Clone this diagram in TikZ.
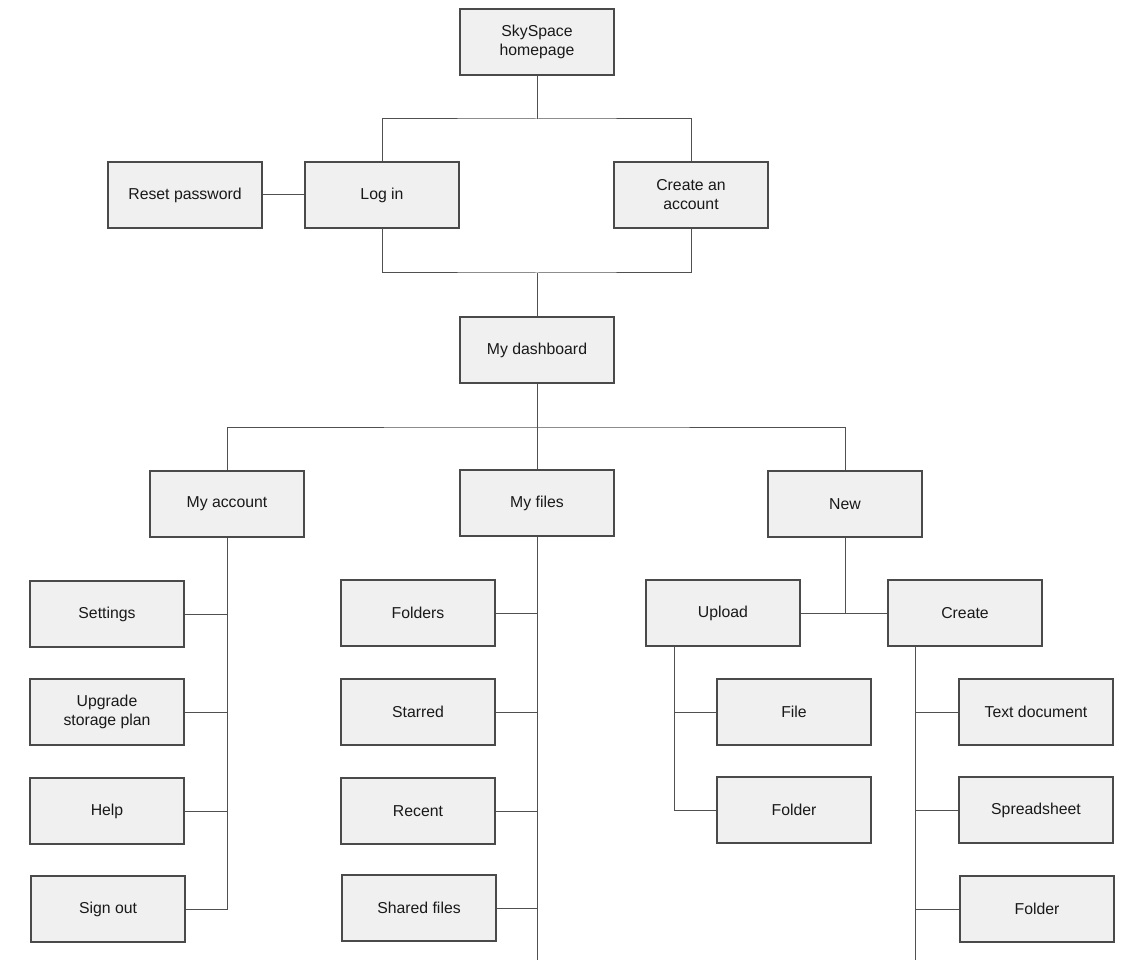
\documentclass[tikz,border=0pt]{standalone}
\usepackage{fontspec}
\setmainfont{Liberation Sans}
\definecolor{boxfill}{HTML}{F0F0F0}
\definecolor{boxline}{HTML}{4A4A4A}
\definecolor{linkcol}{HTML}{505050}
\begin{document}
\begin{tikzpicture}[x=1pt,y=-1pt,
  box/.style={draw=boxline, fill=boxfill, line width=1.2pt, minimum width=154pt,
    minimum height=66pt, inner sep=0pt, align=center,
    font=\fontsize{15.8}{19}\selectfont, text=black!90},
  link/.style={draw=linkcol, line width=1pt}]
\useasboundingbox[fill=white] (0,0) rectangle (1125,960);

% level 0-1
\node[box] (home)   at (537,42)  {SkySpace\\homepage};
\node[box] (login)  at (382,195) {Log in};
\node[box] (reset)  at (185,195) {Reset password};
\node[box] (create) at (691,195) {Create an\\account};
\node[box] (dash)   at (537,350) {My dashboard};

% level 2
\node[box] (acct)  at (227,504) {My account};
\node[box] (files) at (537,503) {My files};
\node[box] (new)   at (845,504) {New};

% my account children
\node[box] (settings) at (107,614) {Settings};
\node[box] (upgrade)  at (107,712) {Upgrade\\storage plan};
\node[box] (help)     at (107,811) {Help};
\node[box] (signout)  at (108,909) {Sign out};

% my files children
\node[box] (folders) at (418,613) {Folders};
\node[box] (starred) at (418,712) {Starred};
\node[box] (recent)  at (418,811) {Recent};
\node[box] (shared)  at (419,908) {Shared files};

% new children
\node[box] (upload)  at (723,613) {Upload};
\node[box] (create2) at (965,613) {Create};
\node[box] (file)    at (794,712) {File};
\node[box] (ufolder) at (794,810) {Folder};
\node[box] (textdoc) at (1036,712) {Text document};
\node[box] (sheet)   at (1036,810) {Spreadsheet};
\node[box] (cfolder) at (1037,909) {Folder};

% junction coordinates
\coordinate (j1) at (537,119);
\coordinate (j2) at (537,273);
\coordinate (j3) at (537,427);
\coordinate (j4) at (845,613);
\coordinate (filesEnd) at (537,960);
\coordinate (upTrunk) at (674,646);
\coordinate (crTrunk) at (915,646);
\coordinate (crEnd) at (915,960);

% top connectors
\draw[link] (home.south) -- (j1);
\draw[link] (login.north) |- (j1) -| (create.north);
\draw[link] (reset.east) -- (login.west);
\draw[link] (login.south) |- (j2) -| (create.south);
\draw[link] (j2) -- (dash.north);

% dashboard connectors
\draw[link] (dash.south) -- (files.north);
\draw[link] (acct.north) |- (j3) -| (new.north);

% my account
\draw[link] (acct.south) |- (signout.east);
\draw[link] (settings.east) -- (settings.east -| acct.south);
\draw[link] (upgrade.east) -- (upgrade.east -| acct.south);
\draw[link] (help.east) -- (help.east -| acct.south);

% my files
\draw[link] (files.south) -- (filesEnd);
\draw[link] (folders.east) -- (folders.east -| files.south);
\draw[link] (starred.east) -- (starred.east -| files.south);
\draw[link] (recent.east) -- (recent.east -| files.south);
\draw[link] (shared.east) -- (shared.east -| files.south);

% new
\draw[link] (new.south) -- (j4);
\draw[link] (upload.east) -- (create2.west);

% upload
\draw[link] (upTrunk) |- (ufolder.west);
\draw[link] (file.west) -- (file.west -| upTrunk);

% create
\draw[link] (crTrunk) -- (crEnd);
\draw[link] (textdoc.west) -- (textdoc.west -| crTrunk);
\draw[link] (sheet.west) -- (sheet.west -| crTrunk);
\draw[link] (cfolder.west) -- (cfolder.west -| crTrunk);
\end{tikzpicture}
\end{document}
